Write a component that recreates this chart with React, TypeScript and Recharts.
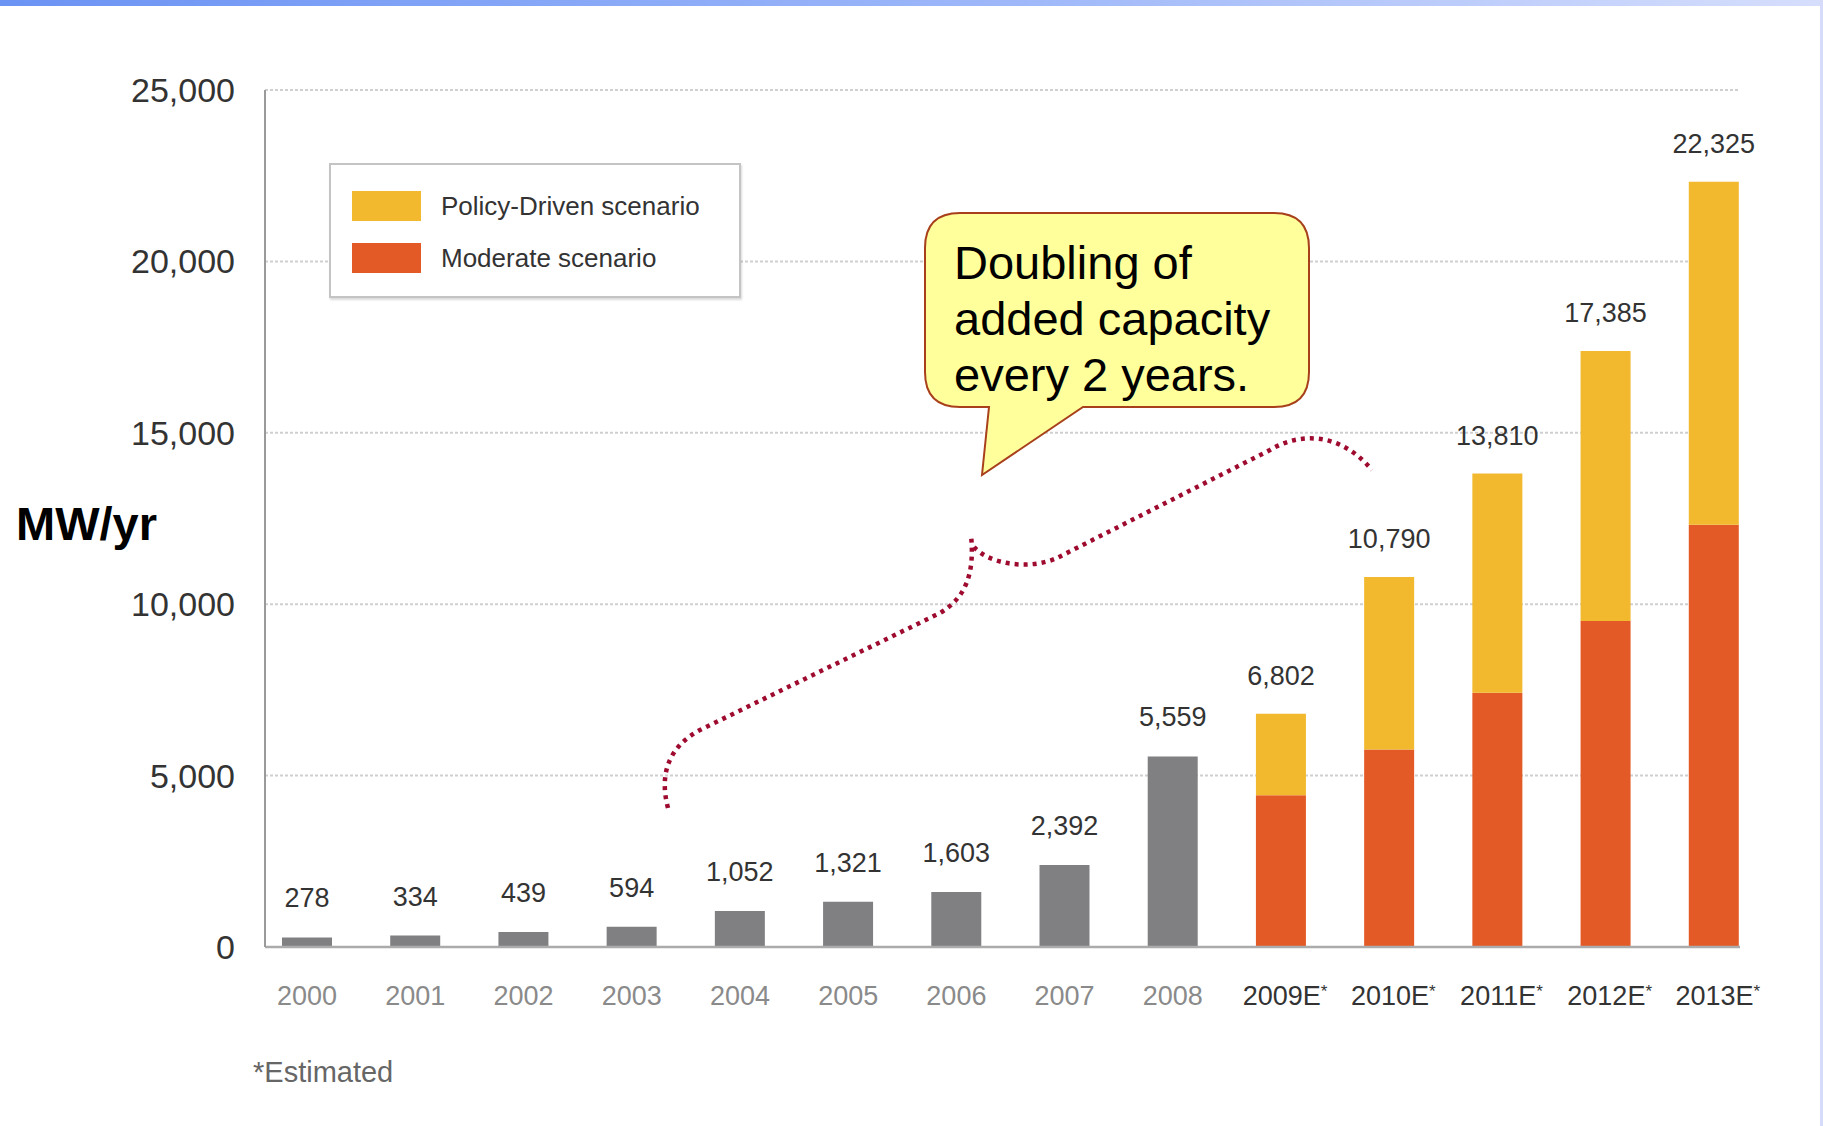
import React from 'react';
import { BarChart, Bar, XAxis, YAxis, CartesianGrid, LabelList, Legend } from 'recharts';

// ---------- data ----------
const years = ['2000', '2001', '2002', '2003', '2004', '2005', '2006', '2007', '2008', '2009E*', '2010E*', '2011E*', '2012E*', '2013E*'];
const installed = [278, 334, 439, 594, 1052, 1321, 1603, 2392, 5559];
const moderateValues = [4430, 5760, 7420, 9510, 12320];
const policyTotals = [6802, 10790, 13810, 17385, 22325];
const yTicks = [0, 5000, 10000, 15000, 20000, 25000];
const calloutLines = ['Doubling of', 'added capacity', 'every 2 years.'];

const rows = years.map((year, i) => {
  if (i < installed.length) {
    return { year, actual: installed[i], moderate: 0, policy: 0, total: null as number | null };
  }
  const k = i - installed.length;
  return { year, actual: 0, moderate: moderateValues[k], policy: policyTotals[k] - moderateValues[k], total: policyTotals[k] };
});

// ---------- styles ----------
const FONT = '"Liberation Sans", Arial, Helvetica, sans-serif';
const GREY = '#808083';
const ORANGE = '#e45a26';
const YELLOW = '#f2b82e';

const fmt = (v: any) => (v ? Number(v).toLocaleString('en-US') : '');

const XTick = (props: any) => {
  const { x, y, payload } = props;
  const label: string = payload.value;
  const est = label.endsWith('*');
  if (est) {
    return (
      <text x={x + 4} y={y + 49} textAnchor="middle" dy="0.35em" fontFamily={FONT} fontSize={27} fill="#333">
        {label.slice(0, -1)}
        <tspan fontSize={17} dy={-8}>*</tspan>
      </text>
    );
  }
  return (
    <text x={x} y={y + 49} textAnchor="middle" dy="0.35em" fontFamily={FONT} fontSize={27} fill="#8a8a8a">
      {label}
    </text>
  );
};

const LegendBox = (props: any) => {
  const payload = (props.payload || []).filter((p: any) => p.dataKey === 'policy' || p.dataKey === 'moderate');
  payload.sort((a: any) => (a.dataKey === 'policy' ? -1 : 1));
  return (
    <div
      style={{
        width: 408,
        height: 131,
        border: '2px solid #c4c4c4',
        boxShadow: '1px 2px 2px rgba(0,0,0,0.15)',
        background: '#fff',
        boxSizing: 'content-box',
        position: 'relative',
        fontFamily: FONT,
      }}
    >
      {payload.map((p: any, i: number) => (
        <div key={p.dataKey} style={{ position: 'absolute', left: 21, top: 26 + i * 52, height: 30, display: 'flex', alignItems: 'center' }}>
          <div style={{ width: 69, height: 30, background: p.color }} />
          <span style={{ marginLeft: 20, fontSize: 26, color: '#333', whiteSpace: 'nowrap' }}>{p.value}</span>
        </div>
      ))}
    </div>
  );
};

export default function App() {
  return (
    <div style={{ position: 'absolute', left: 0, top: 0, width: 1823, height: 1126, background: '#fff', overflow: 'hidden' }}>
      {/* slide decorations */}
      <div style={{ position: 'absolute', left: 0, top: 0, width: 1823, height: 6, background: 'linear-gradient(90deg, #6b93f4 0%, #9db7f9 55%, #d6defc 100%)' }} />
      <div style={{ position: 'absolute', right: 0, top: 0, width: 3, height: 1126, background: '#d6dbfa' }} />

      <BarChart
        width={1823}
        height={1126}
        data={rows}
        margin={{ top: 90, right: 83, bottom: 119, left: 165 }}
        style={{ position: 'absolute', left: 0, top: 0 }}
      >
        <CartesianGrid vertical={false} stroke="#cfcfcf" strokeWidth={2} strokeDasharray="3 2" />
        <XAxis
          dataKey="year"
          height={60}
          padding={{ left: -12, right: -28 }}
          tickLine={false}
          tickSize={0}
          tickMargin={0}
          axisLine={{ stroke: '#ababab', strokeWidth: 2.5 }}
          tick={<XTick />}
          interval={0}
        />
        <YAxis
          width={100}
          domain={[0, 25000]}
          ticks={yTicks}
          tickLine={false}
          tickSize={0}
          tickMargin={30}
          axisLine={{ stroke: '#9a9a9a', strokeWidth: 2 }}
          tick={{ fontFamily: FONT, fontSize: 34, fill: '#333' }}
          tickFormatter={(v: number) => v.toLocaleString('en-US')}
        />
        <Legend
          layout="horizontal"
          verticalAlign="middle"
          align="center"
          wrapperStyle={{ top: 163, left: 329, width: 412, height: 135 }}
          content={<LegendBox />}
        />
        <Bar dataKey="actual" name="Installed" stackId="a" fill={GREY} barSize={50} legendType="none" isAnimationActive={false}>
          <LabelList dataKey="actual" position="top" offset={30} formatter={fmt} style={{ fontFamily: FONT, fontSize: 27, fill: '#333' }} />
        </Bar>
        <Bar dataKey="moderate" name="Moderate scenario" stackId="a" fill={ORANGE} barSize={50} isAnimationActive={false} />
        <Bar dataKey="policy" name="Policy-Driven scenario" stackId="a" fill={YELLOW} barSize={50} isAnimationActive={false}>
          <LabelList dataKey="total" position="top" offset={29} formatter={fmt} style={{ fontFamily: FONT, fontSize: 27, fill: '#333' }} />
        </Bar>
      </BarChart>

      {/* annotations */}
      <svg width={1823} height={1126} style={{ position: 'absolute', left: 0, top: 0, pointerEvents: 'none' }}>
        <text x={16} y={540} fontFamily={FONT} fontWeight="bold" fontSize={47} fill="#000">MW/yr</text>
        <text x={253} y={1082} fontFamily={FONT} fontSize={29} fill="#666">*Estimated</text>

        <path
          d="M 668 808 C 658 770, 672 745, 700 730 L 940 613 C 965 598, 975 575, 971 535"
          fill="none"
          stroke="#9e0b2f"
          strokeWidth={4.5}
          strokeDasharray="4 5"
        />
        <path
          d="M 974 547 C 990 565, 1030 570, 1057 558 L 1270 450 C 1300 432, 1340 432, 1372 470"
          fill="none"
          stroke="#9e0b2f"
          strokeWidth={4.5}
          strokeDasharray="4 5"
        />

        <path
          d="M 960 213 H 1274 Q 1309 213 1309 248 V 372 Q 1309 407 1274 407 H 1083 L 982 475 L 989 407 H 960 Q 925 407 925 372 V 248 Q 925 213 960 213 Z"
          fill="#ffff9c"
          stroke="#a8401c"
          strokeWidth={2}
        />
        {calloutLines.map((t, i) => (
          <text key={i} x={954} y={279 + i * 56} fontFamily={FONT} fontSize={47} fill="#000">{t}</text>
        ))}
      </svg>
    </div>
  );
}
